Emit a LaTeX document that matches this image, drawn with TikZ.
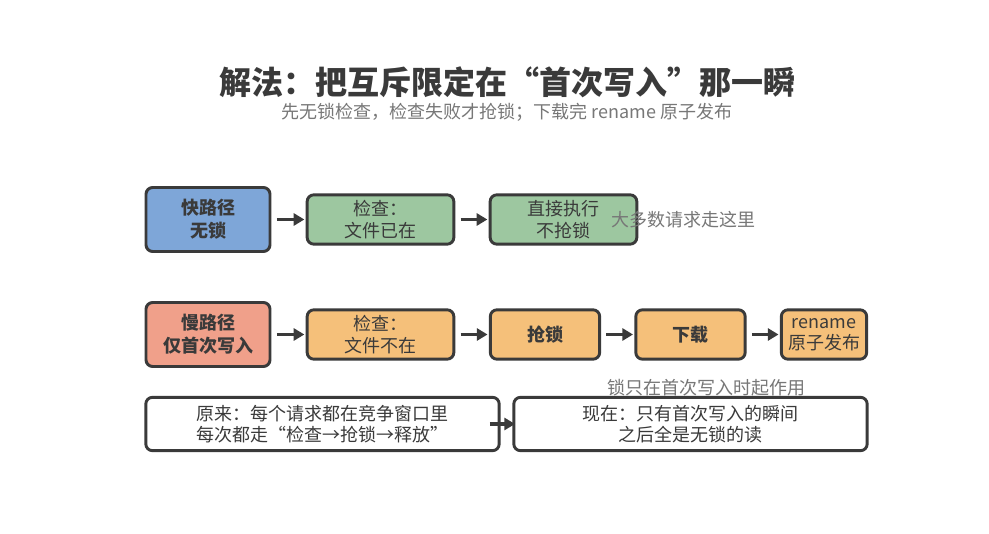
\documentclass[tikz,border=0pt]{standalone}
\usepackage{fontspec}
\setmainfont{Noto Sans CJK SC}
\usetikzlibrary{arrows.meta}
\definecolor{edge}{HTML}{3A3A3A}
\definecolor{fastblue}{HTML}{7EA6D8}
\definecolor{okgreen}{HTML}{9DC7A0}
\definecolor{slowred}{HTML}{F0A08A}
\definecolor{slowtan}{HTML}{F5C07A}
\definecolor{note}{HTML}{777777}
\tikzset{
  stage/.style={rectangle, rounded corners=5pt, draw=edge, line width=2.2pt, align=center, inner sep=1pt, font=\fontsize{13.5}{16}\selectfont, text=edge},
  key/.style={stage, font=\fontsize{13.5}{17}\selectfont\bfseries},
  flow/.style={-{Triangle[length=8pt,width=9pt]}, draw=edge, line width=2.4pt, shorten <=4pt, shorten >=1pt},
  remark/.style={text=note, font=\fontsize{13.5}{16}\selectfont}
}
\begin{document}
\begin{tikzpicture}[x=0.75pt,y=-0.75pt]
    \useasboundingbox[fill=white] (0,0) rectangle (989,534);

    \node [font=\fontsize{24}{28}\selectfont\bfseries, text=edge] (title) at (507,82) {解法：把互斥限定在“首次写入”那一瞬};
    \node [remark] (subtitle) at (507,112) {先无锁检查，检查失败才抢锁；下载完 rename 原子发布};

    % fast path
    \node [key, fill=fastblue, minimum width=93pt, minimum height=48pt] (fast) at (208,219.5) {快路径\\无锁};
    \node [stage, fill=okgreen, minimum width=110pt, minimum height=37pt] (hit) at (380.5,219.5) {检查：\\文件已在};
    \node [stage, fill=okgreen, minimum width=110pt, minimum height=37pt] (direct) at (563.5,219.5) {直接执行\\不抢锁};
    \node [remark] (most) at (683,220) {大多数请求走这里};

    % slow path
    \node [key, fill=slowred, minimum width=93pt, minimum height=48pt] (slow) at (208,334.5) {慢路径\\仅首次写入};
    \node [stage, fill=slowtan, minimum width=110pt, minimum height=37pt] (miss) at (380.5,334.5) {检查：\\文件不在};
    \node [key, fill=slowtan, minimum width=82pt, minimum height=37pt] (lock) at (545,334.5) {抢锁};
    \node [key, fill=slowtan, minimum width=82pt, minimum height=37pt] (fetch) at (690.5,334.5) {下载};
    \node [stage, fill=slowtan, minimum width=64pt, minimum height=37pt] (publish) at (824,334.5) {rename\\原子发布};
    \node [remark] (once) at (706,388) {锁只在首次写入时起作用};

    % before / after
    \node [stage, fill=white, minimum width=265pt, minimum height=40pt] (before) at (322.5,424) {原来：每个请求都在竞争窗口里\\每次都走“检查→抢锁→释放”};
    \node [stage, fill=white, minimum width=265pt, minimum height=40pt] (after) at (690.5,424) {现在：只有首次写入的瞬间\\之后全是无锁的读};

    \draw [flow] (fast) -- (hit);
    \draw [flow] (hit) -- (direct);
    \draw [flow] (slow) -- (miss);
    \draw [flow] (miss) -- (lock);
    \draw [flow] (lock) -- (fetch);
    \draw [flow] (fetch) -- (publish);
    \draw [flow, shorten <=-8pt, shorten >=-2pt] (before) -- (after);
\end{tikzpicture}
\end{document}
